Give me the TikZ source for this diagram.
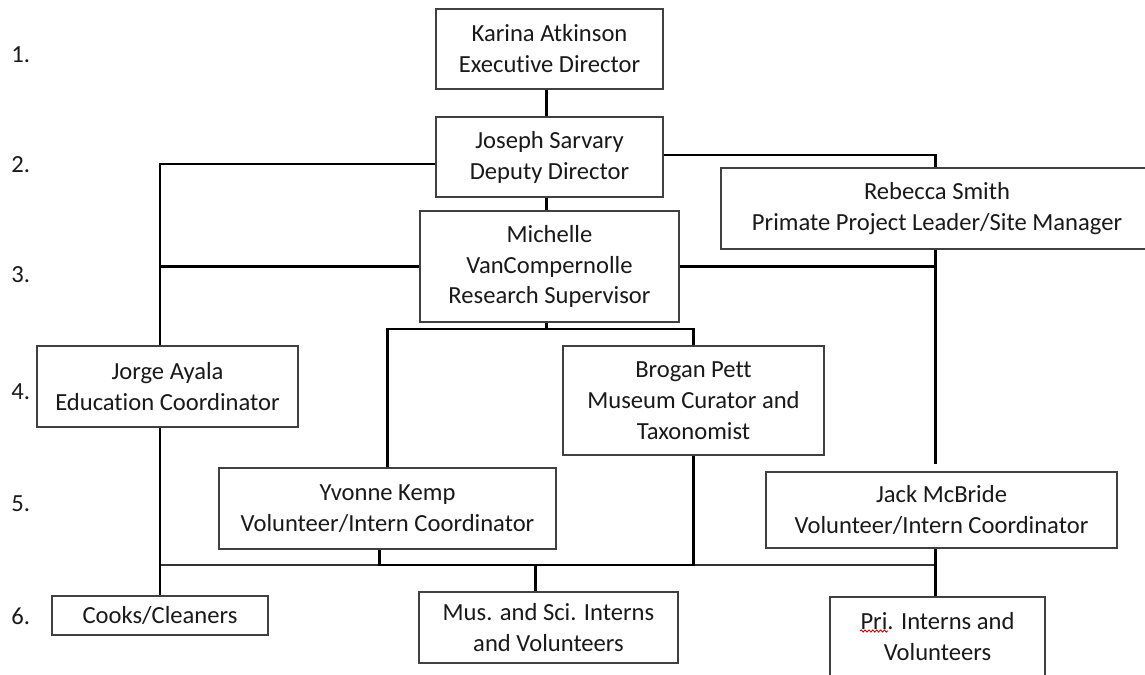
\documentclass[tikz,border=0pt]{standalone}
\usepackage{fontspec}
\setmainfont[Ligatures=NoCommon]{Carlito}
\usetikzlibrary{decorations.pathmorphing}
\tikzset{
	boxstyle/.style={rectangle,draw=black!75,line width=0.9pt,fill=white,align=center,inner sep=0pt,text=black!90},
	linestyle/.style={draw=black,line width=1.7pt},
	thinstyle/.style={draw=black!80,line width=1pt},
	levelstyle/.style={anchor=west,inner sep=0pt,text=black!90},
	wavestyle/.style={draw=red!85!black,line width=0.5pt,decorate,decoration={snake,amplitude=0.6pt,segment length=2.2pt}}
}

\begin{document}
\begin{tikzpicture}[x=0.02cm,y=-0.02cm]
		\fontsize{14}{17.6}\selectfont
		\useasboundingbox (0,0) rectangle (1145,675);
		\node[boxstyle,minimum width=4.54cm,minimum height=1.6cm] (karina) at (549.5,49) {Karina Atkinson\\Executive Director};
		\node[boxstyle,minimum width=4.54cm,minimum height=1.6cm] (joseph) at (549.5,157) {Joseph Sarvary\\Deputy Director};
		\node[boxstyle,minimum width=5.18cm,minimum height=2.22cm] (michelle) at (549.5,266.5) {Michelle\\VanCompernolle\\Research Supervisor};
		\node[boxstyle,minimum width=8.64cm,minimum height=1.62cm] (rebecca) at (937,208.5) {Rebecca Smith\\Primate Project Leader/Site Manager};
		\node[boxstyle,minimum width=5.22cm,minimum height=1.62cm] (jorge) at (167.5,386.5) {Jorge Ayala\\Education Coordinator};
		\node[boxstyle,minimum width=5.22cm,minimum height=2.18cm] (brogan) at (693.5,400.5) {Brogan Pett\\Museum Curator and\\Taxonomist};
		\node[boxstyle,minimum width=6.74cm,minimum height=1.62cm] (yvonne) at (387.5,508.5) {Yvonne Kemp\\Volunteer/Intern Coordinator};
		\node[boxstyle,minimum width=7.02cm,minimum height=1.52cm] (jack) at (941.5,510) {Jack McBride\\Volunteer/Intern Coordinator};
		\node[boxstyle,minimum width=4.32cm,minimum height=0.78cm] (cooks) at (160,615.5) {Cooks/Cleaners};
		\node[boxstyle,minimum width=5.18cm,minimum height=1.42cm] (mus) at (548.5,627.5) {Mus. and Sci. Interns\\and Volunteers};
		\node[boxstyle,minimum width=4.3cm,minimum height=1.86cm,text depth=0.3cm] (pri) at (937.5,643.5) {Pri. Interns and\\Volunteers};
		\draw[wavestyle] ([shift={(-77.5,-12.5)}]pri.center)--([shift={(-49.5,-12.5)}]pri.center);
		% level numbers
		\foreach \n/\y in {1/55,2/165,3/275,4/392,5/504,6/616}
			\node[levelstyle] (lvl\n) at (11,\y) {\n.};
		% spines and bars
		\coordinate (lspine) at (160,164);
		\coordinate (rspine) at (935,155);
		\coordinate (mbar) at (546,329);
		\coordinate (bbar) at (546,565);
		\draw[linestyle] ([xshift=-0.07cm]karina.south)--([xshift=-0.07cm]joseph.north);
		\draw[linestyle] ([xshift=-0.07cm]joseph.south)--([xshift=-0.07cm]michelle.north);
		\draw[linestyle] (joseph.west |- lspine)--(lspine)--(lspine |- jorge.north);
		\draw[linestyle] (michelle.west)--(michelle.west -| lspine);
		\draw[linestyle] (joseph.east |- rspine)--(rspine)--(rspine |- rebecca.north);
		\draw[linestyle] (michelle.east)--(michelle.east -| rspine);
		\draw[linestyle,shorten >=0.14cm] (rebecca.south -| rspine)--(jack.north -| rspine);
		\draw[linestyle] (michelle.south -| mbar)--(mbar);
		\draw[linestyle] (yvonne.north)--(yvonne.north |- mbar)--(brogan.north |- mbar)--(brogan.north);
		\draw[thinstyle] (lspine |- bbar)--(rspine |- bbar);
		\draw[linestyle] ([xshift=-0.16cm]yvonne.south)--([xshift=-0.16cm]yvonne.south |- bbar)--(brogan.south |- bbar)--(brogan.south);
		\draw[linestyle] (jorge.south -| lspine)--(cooks.north);
		\draw[linestyle] ([xshift=-0.27cm]mus.north |- bbar)--([xshift=-0.27cm]mus.north);
		\draw[linestyle] (jack.south -| rspine)--(pri.north -| rspine);
\end{tikzpicture}
\end{document}
